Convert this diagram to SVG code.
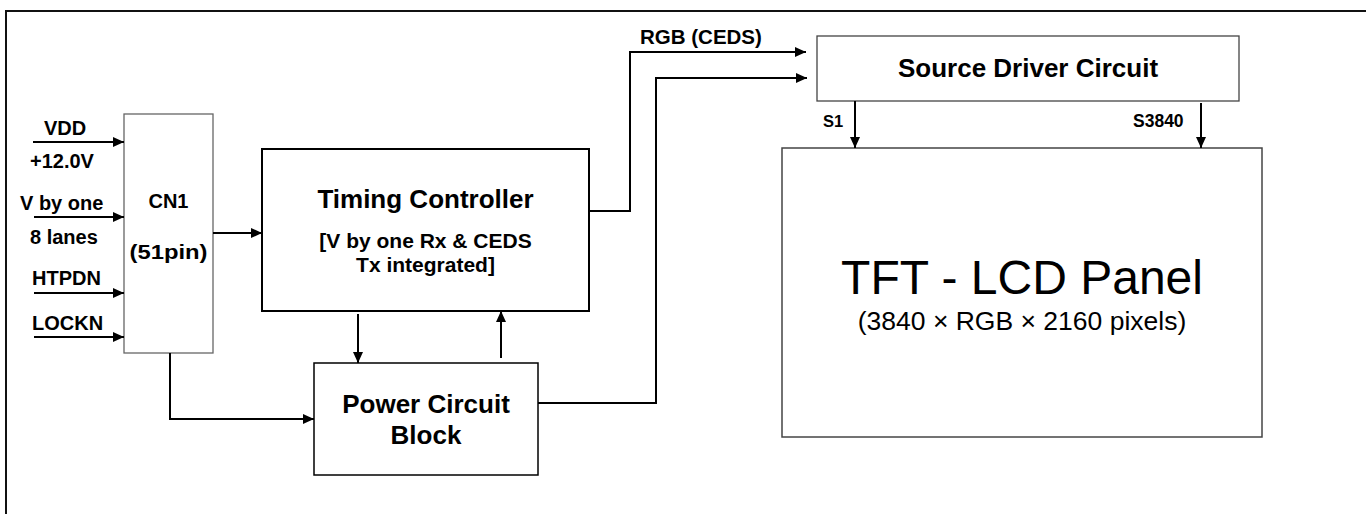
<svg xmlns="http://www.w3.org/2000/svg" width="1366" height="514" viewBox="0 0 1366 514">
<defs>
<marker id="ah" markerUnits="userSpaceOnUse" markerWidth="12" markerHeight="10" refX="11" refY="5" orient="auto">
<path d="M0,0 L11,5 L0,10 Z" fill="#000"/>
</marker>
<style>
.lbl{font-family:"Liberation Sans",Arial,sans-serif;font-weight:bold;fill:#000}
.reg{font-family:"Liberation Sans",Arial,sans-serif;fill:#000}
.ln{fill:none;stroke:#000;stroke-width:2}
.arr{fill:none;stroke:#000;stroke-width:2;marker-end:url(#ah)}
</style>
</defs>
<rect x="0" y="0" width="1366" height="514" fill="#fff"/>
<rect id="frame" x="6" y="11" width="1400" height="600" fill="none" stroke="#111" stroke-width="2"/>

<g id="inputs">
<text class="lbl" x="44" y="135" font-size="20">VDD</text>
<text class="lbl" x="30" y="168" font-size="20">+12.0V</text>
<text class="lbl" x="20" y="210" font-size="20">V by one</text>
<text class="lbl" x="30" y="244" font-size="20">8 lanes</text>
<text class="lbl" x="32" y="285" font-size="20">HTPDN</text>
<text class="lbl" x="32" y="330" font-size="20">LOCKN</text>
</g>

<g id="cn1">
<rect x="124" y="114" width="89" height="239" fill="#fff" stroke="#666" stroke-width="1.3"/>
<text class="lbl" x="168.5" y="208" font-size="20" text-anchor="middle">CN1</text>
<text class="lbl" x="168.5" y="259" font-size="21" text-anchor="middle" textLength="78" lengthAdjust="spacingAndGlyphs">(51pin)</text>
</g>

<g id="timing">
<rect x="262" y="149" width="327" height="162" fill="#fff" stroke="#000" stroke-width="2"/>
<text class="lbl" x="425.5" y="208" font-size="26" text-anchor="middle">Timing Controller</text>
<text class="lbl" x="425.5" y="248" font-size="21" text-anchor="middle">[V by one Rx &amp; CEDS</text>
<text class="lbl" x="425.5" y="272" font-size="21" text-anchor="middle">Tx integrated]</text>
</g>

<g id="power">
<rect x="314" y="363" width="224" height="112" fill="#fff" stroke="#000" stroke-width="1.5"/>
<text class="lbl" x="426" y="413" font-size="26" text-anchor="middle">Power Circuit</text>
<text class="lbl" x="426" y="444" font-size="26" text-anchor="middle">Block</text>
</g>

<g id="source">
<rect x="817" y="36" width="422" height="65" fill="#fff" stroke="#444" stroke-width="1.3"/>
<text class="lbl" x="1028" y="77" font-size="26" text-anchor="middle">Source Driver Circuit</text>
</g>

<g id="panel">
<rect x="782" y="148" width="480" height="289" fill="#fff" stroke="#444" stroke-width="1.5"/>
<text class="reg" x="1022" y="294" font-size="48" text-anchor="middle">TFT - LCD Panel</text>
<text class="reg" x="1022" y="330" font-size="26.5" text-anchor="middle">(3840 × RGB × 2160 pixels)</text>
</g>

<g id="connectors">
<line class="arr" x1="33" y1="142" x2="124" y2="142"/>
<line class="arr" x1="34" y1="217" x2="124" y2="217"/>
<line class="arr" x1="34" y1="293" x2="124" y2="293"/>
<line class="arr" x1="34" y1="337" x2="124" y2="337"/>
<line class="arr" x1="213" y1="233" x2="262" y2="233"/>
<polyline class="arr" points="170,353 170,419 314,419"/>
<line class="arr" x1="358" y1="314" x2="358" y2="363"/>
<line class="arr" x1="501" y1="358" x2="501" y2="311"/>
<polyline class="arr" points="589,211 630,211 630,52 806,52"/>
<polyline class="arr" points="538,403 656,403 656,78 807,78"/>
<line class="arr" x1="855" y1="101" x2="855" y2="148"/>
<line class="arr" x1="1201" y1="103" x2="1201" y2="148"/>
<text class="lbl" x="640" y="44" font-size="20.5">RGB (CEDS)</text>
<text class="lbl" x="823" y="127" font-size="16.5">S1</text>
<text class="lbl" x="1133" y="127" font-size="17.5">S3840</text>
</g>
</svg>
